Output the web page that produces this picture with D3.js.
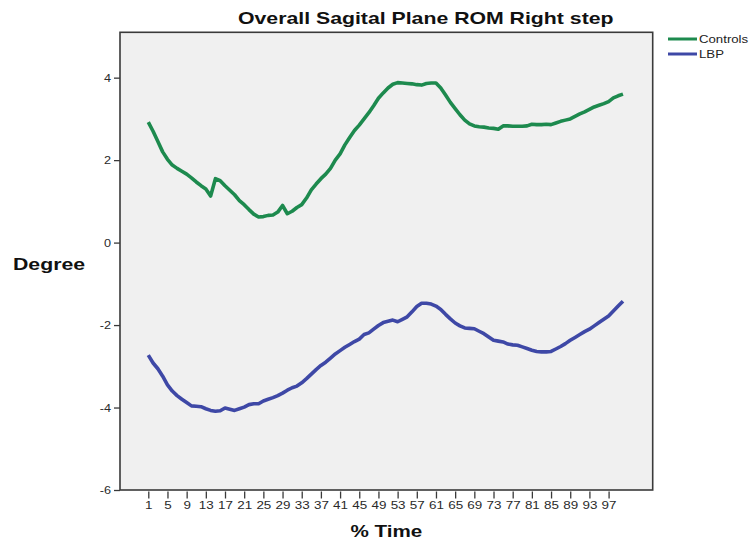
<!DOCTYPE html>
<html>
<head>
<meta charset="utf-8">
<script src="https://cdn.jsdelivr.net/npm/d3@7"></script>
<style>
  body { margin: 0; background: #ffffff; }
  svg { display: block; }
  text { font-family: "Liberation Sans", Arial, sans-serif; }
</style>
</head>
<body>
<svg id="chart" width="756" height="542"></svg>
<script>
const title = "Overall Sagital Plane ROM Right step";
const xTitle = "% Time";
const yTitle = "Degree";
const seriesNames = ["Controls", "LBP"];
const seriesColors = ["#1d8a4e", "#3e48a6"];
const timePoints = d3.range(1, 101);
const xTickLabels = d3.range(1, 98, 4);
const yTickLabels = [-6, -4, -2, 0, 2, 4];

const controls = [
  2.92, 2.70, 2.45, 2.20, 2.02, 1.88, 1.80, 1.73, 1.66, 1.57,
  1.47, 1.38, 1.30, 1.13, 1.55, 1.50, 1.38, 1.27, 1.16, 1.02,
  0.92, 0.80, 0.69, 0.62, 0.63, 0.66, 0.67, 0.74, 0.90, 0.70,
  0.76, 0.85, 0.92, 1.08, 1.28, 1.42, 1.55, 1.66, 1.80, 2.00,
  2.15, 2.37, 2.55, 2.72, 2.85, 3.00, 3.15, 3.32, 3.50, 3.63,
  3.75, 3.84, 3.88, 3.87, 3.86, 3.85, 3.83, 3.82, 3.86, 3.87,
  3.87, 3.75, 3.58, 3.40, 3.25, 3.10, 2.97, 2.88, 2.83, 2.81,
  2.80, 2.78, 2.77, 2.75, 2.83, 2.83, 2.82, 2.82, 2.82, 2.83,
  2.87, 2.86, 2.86, 2.87, 2.86, 2.90, 2.94, 2.97, 3.00, 3.06,
  3.12, 3.17, 3.23, 3.29, 3.33, 3.37, 3.42, 3.51, 3.56, 3.60
];
const lbp = [
  -2.73, -2.92, -3.06, -3.24, -3.45, -3.60, -3.71, -3.80, -3.88, -3.96,
  -3.97, -3.98, -4.03, -4.07, -4.09, -4.08, -4.01, -4.04, -4.07, -4.03,
  -3.99, -3.93, -3.91, -3.91, -3.84, -3.80, -3.76, -3.71, -3.65, -3.58,
  -3.52, -3.48, -3.40, -3.30, -3.19, -3.08, -2.98, -2.90, -2.80, -2.70,
  -2.62, -2.54, -2.47, -2.40, -2.34, -2.23, -2.19, -2.10, -2.01, -1.94,
  -1.91, -1.88, -1.92, -1.86, -1.80, -1.68, -1.55, -1.47, -1.47, -1.49,
  -1.54, -1.62, -1.74, -1.85, -1.95, -2.02, -2.07, -2.08, -2.09, -2.15,
  -2.21, -2.29, -2.37, -2.39, -2.41, -2.46, -2.48, -2.49, -2.53, -2.57,
  -2.61, -2.64, -2.65, -2.65, -2.64, -2.58, -2.52, -2.45, -2.37, -2.30,
  -2.23, -2.16, -2.10, -2.02, -1.94, -1.86, -1.78, -1.66, -1.54, -1.42
];
const seriesValues = [controls, lbp];

const svg = d3.select("#chart");
const plot = { left: 120, right: 652.7, top: 32.3, bottom: 490 };
const stretch = 1.25;

const x = d3.scaleLinear().domain([-4.9, 106.2]).range([plot.left, plot.right]);
const y = d3.scaleLinear().domain([-6, 5.1]).range([plot.bottom, plot.top]);

function stretchText(sel, factor) {
  sel.each(function () {
    const w = this.getComputedTextLength();
    d3.select(this).attr("textLength", w * factor).attr("lengthAdjust", "spacingAndGlyphs");
  });
}

// plot background
svg.append("rect")
  .attr("x", plot.left).attr("y", plot.top)
  .attr("width", plot.right - plot.left).attr("height", plot.bottom - plot.top)
  .attr("fill", "#f0f0f0");

// lines
const line = d3.line().x((d, i) => x(timePoints[i])).y(d => y(d));
seriesValues.forEach((vals, k) => {
  svg.append("path")
    .datum(vals)
    .attr("d", line)
    .attr("fill", "none")
    .attr("stroke", seriesColors[k])
    .attr("stroke-width", 3.6)
    .attr("stroke-linejoin", "round")
    .attr("stroke-linecap", "butt");
});

// frame
svg.append("rect")
  .attr("x", plot.left).attr("y", plot.top)
  .attr("width", plot.right - plot.left).attr("height", plot.bottom - plot.top)
  .attr("fill", "none").attr("stroke", "#3a3a3a").attr("stroke-width", 1.6);

// y axis
const yAxis = d3.axisLeft(y).tickValues(yTickLabels).tickSize(6).tickPadding(3)
  .tickFormat(d => String(d));
const gy = svg.append("g").attr("transform", `translate(${plot.left},0)`).call(yAxis);
gy.select(".domain").remove();
gy.selectAll(".tick line").attr("stroke", "#3a3a3a").attr("stroke-width", 1.3);
gy.selectAll(".tick text").attr("font-size", 11).attr("fill", "#2a2a2a")
  .attr("font-family", "Liberation Sans, Arial, sans-serif")
  .call(stretchText, 1.15);

// x axis
const xAxis = d3.axisBottom(x).tickValues(xTickLabels).tickSize(7).tickPadding(3)
  .tickFormat(d => String(d));
const gx = svg.append("g").attr("transform", `translate(0,${plot.bottom + 1.5})`).call(xAxis);
gx.select(".domain").remove();
gx.selectAll(".tick line").attr("stroke", "#3a3a3a").attr("stroke-width", 1.3);
gx.selectAll(".tick text").attr("font-size", 11).attr("fill", "#2a2a2a")
  .attr("font-family", "Liberation Sans, Arial, sans-serif")
  .call(stretchText, 1.22);

// title
svg.append("text")
  .attr("x", 238).attr("y", 24)
  .attr("font-size", 17).attr("font-weight", "bold").attr("fill", "#111")
  .text(title)
  .call(stretchText, stretch);

// axis titles
svg.append("text")
  .attr("x", 13).attr("y", 270)
  .attr("font-size", 17).attr("font-weight", "bold").attr("fill", "#111")
  .text(yTitle)
  .call(stretchText, stretch);

svg.append("text")
  .attr("x", (plot.left + plot.right) / 2).attr("y", 537)
  .attr("font-size", 16.5).attr("font-weight", "bold").attr("fill", "#111")
  .attr("text-anchor", "middle")
  .text(xTitle)
  .call(stretchText, stretch);

// legend
const legend = svg.append("g");
seriesNames.forEach((name, k) => {
  const ly = 39 + k * 15;
  legend.append("line")
    .attr("x1", 668).attr("x2", 697).attr("y1", ly).attr("y2", ly)
    .attr("stroke", seriesColors[k]).attr("stroke-width", 3);
  legend.append("text")
    .attr("x", 699).attr("y", ly + 4)
    .attr("font-size", 11).attr("fill", "#222")
    .text(name)
    .call(stretchText, 1.2);
});
</script>
</body>
</html>
